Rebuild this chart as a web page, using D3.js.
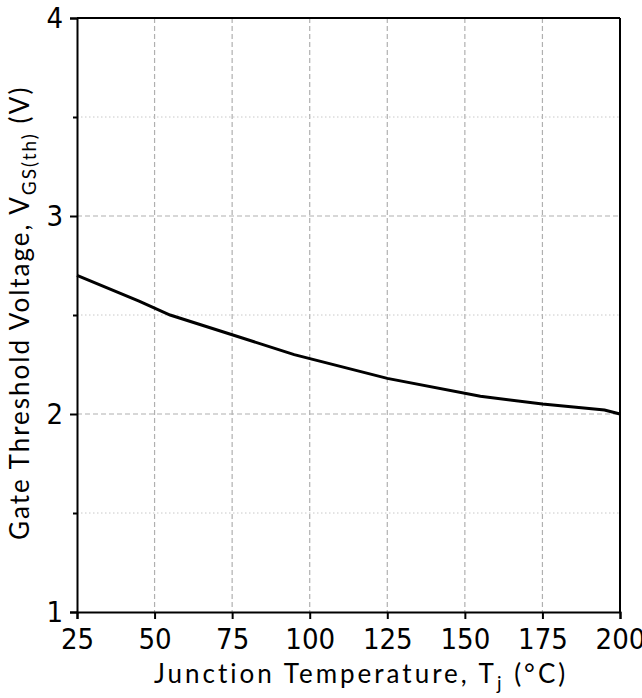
<!DOCTYPE html>
<html>
<head>
<meta charset="utf-8">
<script src="https://cdn.jsdelivr.net/npm/d3@7"></script>
<style>
  body { margin: 0; background: #fff; }
  .tick text { font-family: "Liberation Sans Narrow", "DejaVu Sans Condensed", sans-serif; font-size: 29px; fill: #000; }
  .title { font-family: Lato, sans-serif; font-size: 26px; fill: #000; }
</style>
</head>
<body>
<svg id="chart" width="642" height="698"></svg>
<script>
// curve
const temps = [25, 45, 55, 75, 95, 125, 155, 175, 195, 200];
const vth = [2.70, 2.57, 2.50, 2.40, 2.30, 2.18, 2.09, 2.05, 2.02, 2.00];

const xTicks = [25, 50, 75, 100, 125, 150, 175, 200];
const yTicks = [1, 2, 3, 4];
const yMinor = [1.5, 2.5, 3.5];

const svg = d3.select('#chart');
const margin = { left: 77, right: 22, top: 18, bottom: 86 };
const width = 642 - margin.left - margin.right;
const height = 698 - margin.top - margin.bottom;

const g = svg.append('g').attr('transform', `translate(${margin.left},${margin.top})`);

const x = d3.scaleLinear().domain([25, 200]).range([0, width]);
const y = d3.scaleLinear().domain([1, 4]).range([height, 0]);

// grid: dashed at major ticks, dotted at the half volts
g.append('g').selectAll('line').data(xTicks.slice(1, -1)).join('line')
    .attr('x1', d => x(d)).attr('x2', d => x(d))
    .attr('y1', 0).attr('y2', height)
    .attr('stroke', '#b0b0b0').attr('stroke-width', 1.2).attr('stroke-dasharray', '5,3');
g.append('g').selectAll('line').data(yTicks.slice(1, -1)).join('line')
    .attr('x1', 0).attr('x2', width)
    .attr('y1', d => y(d)).attr('y2', d => y(d))
    .attr('stroke', '#b0b0b0').attr('stroke-width', 1.2).attr('stroke-dasharray', '5,3');
g.append('g').selectAll('line').data(yMinor).join('line')
    .attr('x1', 0).attr('x2', width)
    .attr('y1', d => y(d)).attr('y2', d => y(d))
    .attr('stroke', '#c8c8c8').attr('stroke-width', 1).attr('stroke-dasharray', '1.5,2.5');

// the curve
const line = d3.line().x((d, i) => x(temps[i])).y(d => y(d));
g.append('path').datum(vth)
    .attr('d', line)
    .attr('fill', 'none').attr('stroke', '#000').attr('stroke-width', 3);

// axes
const axes = g.append('g').attr('class', 'axes');
axes.append('g').attr('transform', `translate(0,${height})`)
    .call(d3.axisBottom(x).tickValues(xTicks).tickSize(7).tickPadding(9));
axes.append('g')
    .call(d3.axisLeft(y).tickValues(yTicks).tickFormat(d3.format('d')).tickSize(7).tickPadding(7));
// minor ticks on y
axes.append('g').call(d3.axisLeft(y).tickValues(yMinor).tickSize(4).tickFormat(''))
    .select('.domain').remove();
// top and right frame
axes.append('line').attr('x1', 0).attr('x2', width).attr('y1', 0).attr('y2', 0);
axes.append('line').attr('x1', width).attr('x2', width).attr('y1', 0).attr('y2', height);
axes.selectAll('.domain, line').attr('stroke', '#000').attr('stroke-width', 2);

// axis titles
const xt = svg.append('text').attr('class', 'title')
    .attr('x', 154).attr('y', 683)
    .attr('letter-spacing', 3);
xt.append('tspan').text('Junction Temperature, T');
xt.append('tspan').attr('dy', 7).attr('font-size', 19).text('j');
xt.append('tspan').attr('dy', -7).text(' (°C)');

const yt = svg.append('text').attr('class', 'title')
    .attr('transform', `translate(29,540) rotate(-90)`)
    .attr('letter-spacing', 2);
yt.append('tspan').text('Gate Threshold Voltage, V');
yt.append('tspan').attr('dy', 7).attr('font-size', 19).text('GS(th)');
yt.append('tspan').attr('dy', -7).text(' (V)');
</script>
</body>
</html>
